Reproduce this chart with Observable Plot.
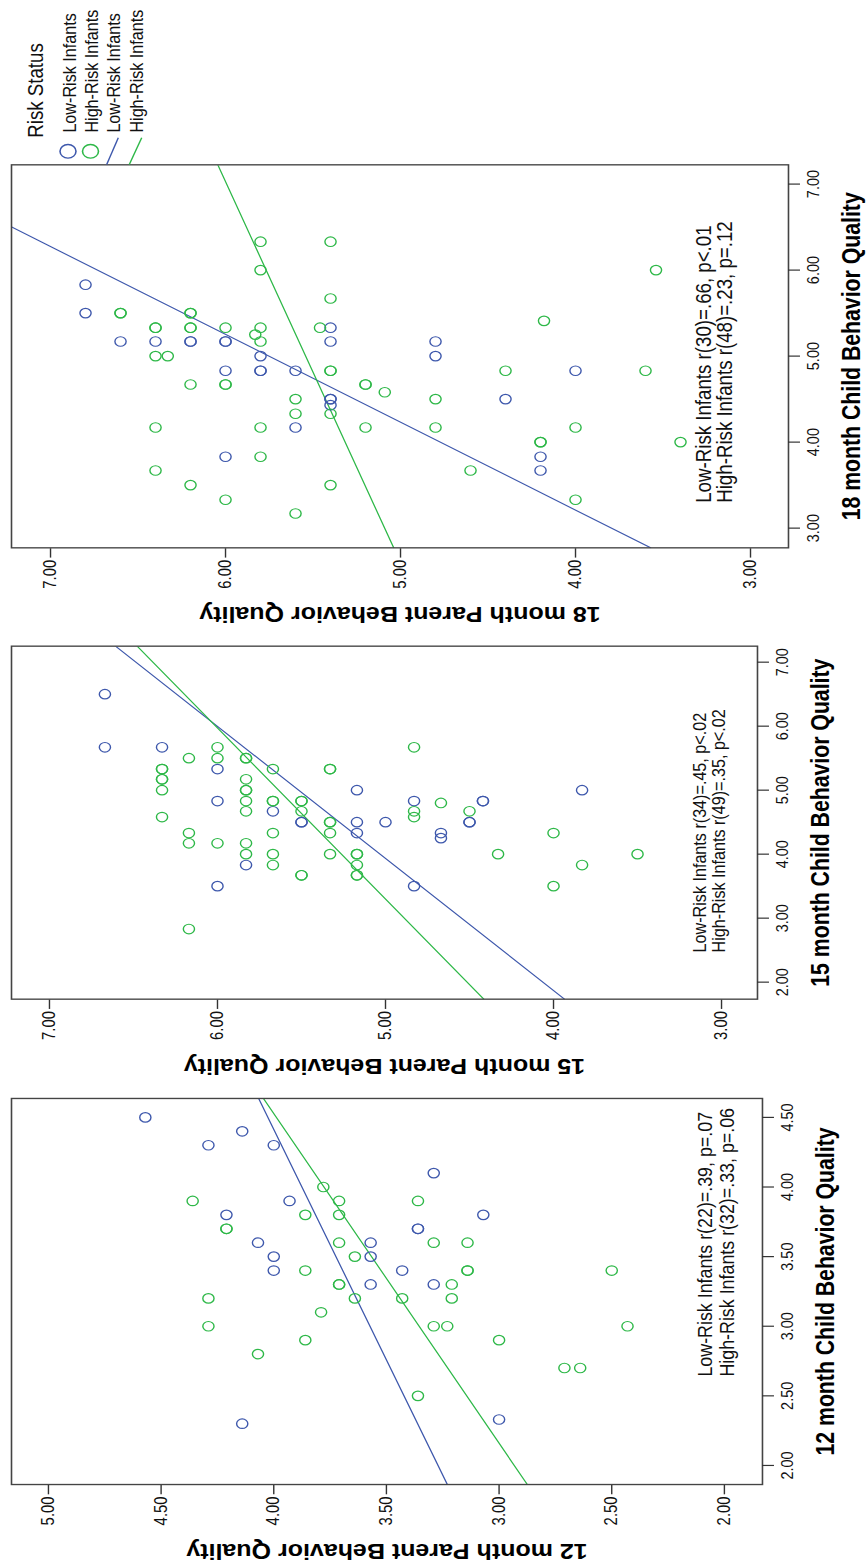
<!DOCTYPE html>
<html><head><meta charset="utf-8">
<script src="https://cdn.jsdelivr.net/npm/d3@7"></script>
<script src="https://cdn.jsdelivr.net/npm/@observablehq/plot@0.6"></script>
<style>
html,body{margin:0;padding:0;background:#fff;}
body{width:868px;height:1564px;overflow:hidden;position:relative;font-family:"Liberation Sans",Arial,sans-serif;}
#fig{position:absolute;left:0;top:0;width:1840px;height:868px;transform-origin:0 0;transform:translate(0px,1564px) rotate(-90deg) scale(0.85,1);}
#fig > div{position:absolute;top:0;}
#fig svg{max-width:none;overflow:visible;}
</style></head><body><div id="fig"></div>
<script>
// ---------- data ----------
const groups = ["Low-Risk Infants", "High-Risk Infants"];
const colors = ["#3E58AC", "#2EB848"];

// 12 month
const low12Parent  = [4.57,4.14,4.29,4.00,3.93,4.21,4.07,4.00,4.00,4.14,3.29,3.07,3.36,3.36,3.57,3.57,3.43,3.57,3.29,3.00];
const low12Child   = [4.50,4.40,4.30,4.30,3.90,3.80,3.60,3.50,3.40,2.30,4.10,3.80,3.70,3.70,3.60,3.50,3.40,3.30,3.30,2.33];
const high12Parent = [4.36,4.21,4.21,4.29,4.29,4.07,3.78,3.71,3.36,3.86,3.71,3.71,3.29,3.14,3.64,3.86,3.14,3.14,2.50,3.71,3.71,3.21,3.64,3.43,3.21,3.79,3.29,3.23,2.43,3.86,3.00,2.71,2.64,3.36];
const high12Child  = [3.90,3.70,3.70,3.20,3.00,2.80,4.00,3.90,3.90,3.80,3.80,3.60,3.60,3.60,3.50,3.40,3.40,3.40,3.40,3.30,3.30,3.30,3.20,3.20,3.20,3.10,3.00,3.00,3.00,2.90,2.90,2.70,2.70,2.50];
const fit12Intercept = [2.667, 2.088];
const fit12Slope     = [0.302, 0.4223];
const stats12 = ["Low-Risk Infants r(22)=.39, p=.07", "High-Risk Infants r(32)=.33, p=.06"];

// 15 month
const low15Parent  = [6.67,6.67,6.33,6.00,6.00,5.67,5.83,6.00,5.17,3.83,4.83,4.42,4.42,5.50,5.50,5.17,5.00,4.50,4.50,5.17,4.67,4.67,4.83];
const low15Child   = [6.50,5.67,5.67,5.33,4.83,4.67,3.83,3.50,5.00,5.00,4.83,4.83,4.83,4.50,4.50,4.50,4.50,4.50,4.50,4.33,4.33,4.25,3.50];
const high15Parent = [6.17,6.00,6.00,5.83,5.83,5.67,6.33,6.33,6.33,6.33,6.33,5.83,5.83,5.83,5.83,5.83,5.67,5.67,6.33,6.17,6.17,6.00,5.83,5.83,5.67,5.67,5.67,6.17,
                      4.83,5.33,5.33,5.50,5.50,4.67,5.50,4.83,4.83,4.50,5.33,5.33,5.33,4.00,5.33,5.17,5.17,4.33,3.50,5.17,3.83,5.50,5.50,5.17,5.17,4.00];
const high15Child  = [5.50,5.67,5.50,5.50,5.50,5.33,5.33,5.33,5.17,5.17,5.00,5.17,5.00,5.00,4.83,4.67,4.83,4.83,4.58,4.33,4.17,4.17,4.17,4.00,4.33,4.00,3.83,2.83,
                      5.67,5.33,5.33,4.83,4.83,4.80,4.67,4.67,4.58,4.67,4.50,4.50,4.33,4.33,4.00,4.00,4.00,4.00,4.00,3.83,3.83,3.67,3.67,3.67,3.67,3.50];
const fit15Intercept = [3.095, 3.7665];
const fit15Slope     = [0.4844, 0.374];
const stats15 = ["Low-Risk Infants r(34)=.45, p<.02", "High-Risk Infants r(49)=.35, p<.02"];

// 18 month
const low18Parent  = [6.8,6.8,6.6,6.4,6.2,6.2,6.0,6.0,5.8,6.0,5.8,5.8,5.6,5.6,6.0,5.4,5.4,4.8,4.8,4.0,5.4,5.4,5.4,4.4,4.2,4.2];
const low18Child   = [5.83,5.50,5.17,5.17,5.17,5.17,5.17,5.17,5.00,4.83,4.83,4.83,4.83,4.17,3.83,5.33,5.17,5.17,5.00,4.83,4.50,4.50,4.43,4.50,3.83,3.67];
const high18Parent = [5.8,5.8,6.6,6.6,6.2,6.2,6.4,6.4,6.2,6.2,6.0,5.8,5.83,5.8,6.4,6.33,6.2,6.0,6.0,5.6,5.6,6.4,5.8,5.8,6.4,6.2,6.0,5.6,
                      5.4,3.54,5.4,4.18,5.46,5.4,5.4,4.4,3.6,5.2,5.2,5.09,4.8,5.4,5.2,4.8,4.0,4.2,4.2,3.4,4.6,5.4,4.0];
const high18Child  = [6.33,6.00,5.50,5.50,5.50,5.50,5.33,5.33,5.33,5.33,5.33,5.33,5.25,5.17,5.00,5.00,4.67,4.67,4.67,4.50,4.33,4.17,4.17,3.83,3.67,3.50,3.33,3.17,
                      6.33,6.00,5.67,5.41,5.33,4.83,4.83,4.83,4.83,4.67,4.67,4.58,4.50,4.33,4.17,4.17,4.17,4.00,4.00,4.00,3.67,3.50,3.33];
const fit18Intercept = [0.858, 4.4136];
const fit18Slope     = [0.979, 0.2257];
const stats18 = ["Low-Risk Infants r(30)=.66, p<.01", "High-Risk Infants r(48)=.23, p=.12"];

const childTitles  = ["12 month Child Behavior Quality", "15 month Child Behavior Quality", "18 month Child Behavior Quality"];
const parentTitles = ["12 month Parent Behavior Quality", "15 month Parent Behavior Quality", "18 month Parent Behavior Quality"];
const childTicks  = [[2,2.5,3,3.5,4,4.5],[2,3,4,5,6,7],[3,4,5,6,7]];
const parentTicks = [[2,2.5,3,3.5,4,4.5,5],[3,4,5,6,7],[3,4,5,6,7]];
const childDomains  = [[1.863,4.636],[1.734,7.25],[2.771,7.224]];
const parentDomains = [[1.831,5.164],[2.786,7.226],[2.783,7.223]];

const legendTitle = "Risk Status";

// ---------- layout (unrotated, pre-scale coordinates) ----------
const layout = [
  {frame:[92.9,547.1,11,762], statsFont:21, statsDx:127, statsDy:-28, statsLH:1.05},
  {frame:[663.5,1078.8,11,757], statsFont:19, statsDx:55, statsDy:-32, statsLH:1.05},
  {frame:[1195.3,1645.9,11,788], statsFont:22, statsDx:53, statsDy:-56, statsLH:0.98}
];

const series = [
  [low12Child, low12Parent, high12Child, high12Parent, fit12Intercept, fit12Slope, stats12],
  [low15Child, low15Parent, high15Child, high15Parent, fit15Intercept, fit15Slope, stats15],
  [low18Child, low18Parent, high18Child, high18Parent, fit18Intercept, fit18Slope, stats18]
];

const fig = document.getElementById("fig");
const FONT = "'Liberation Sans', Arial, sans-serif";
const H = 868, ML = 130, MR = 30;

series.forEach((s, i) => {
  const [lc, lp, hc, hp, ia, sb, st] = s;
  const L = layout[i];
  const [u0, u1, v0, v1] = L.frame;
  const pts = [
    ...lc.map((c, k) => ({c, p: lp[k], g: groups[0]})),
    ...hc.map((c, k) => ({c, p: hp[k], g: groups[1]}))
  ];
  const fit = groups.flatMap((g, k) => childDomains[i].map(x => ({g, x, y: ia[k] + sb[k] * x})));
  const W = (u1 - u0) + ML + MR;
  const svg = Plot.plot({
    width: W, height: H,
    marginLeft: ML, marginRight: MR, marginTop: v0, marginBottom: H - v1,
    x: {domain: childDomains[i]},
    y: {domain: parentDomains[i]},
    color: {domain: groups, range: colors},
    style: {background: "transparent", fontFamily: FONT, overflow: "visible", maxWidth: "none"},
    marks: [
      Plot.line(fit, {x: "x", y: "y", z: "g", stroke: "g", strokeWidth: 1.3, clip: true}),
      Plot.dot(pts, {x: "c", y: "p", stroke: "g", r: 5.6, strokeWidth: 1.4}),
      Plot.frame({stroke: "#444", strokeWidth: 1.6}),
      Plot.axisX({ticks: childTicks[i], tickFormat: d3.format(".2f"), tickSize: 12, tickPadding: 6,
                  fontSize: 17, label: null, stroke: "#333", strokeWidth: 1.4, fill: "#111"}),
      Plot.axisY({ticks: parentTicks[i], tickFormat: d3.format(".2f"), tickSize: 11, tickPadding: 3,
                  fontSize: 17.5, label: null, stroke: "#333", strokeWidth: 1.4, fill: "#111"}),
      Plot.text([childTitles[i]], {text: d => d, frameAnchor: "bottom", dy: 54, lineAnchor: "top",
                  textAnchor: "middle", fontSize: 25, fontWeight: "bold", fill: "#000"}),
      Plot.text([parentTitles[i]], {text: d => d, frameAnchor: "left", rotate: -90, dx: -78,
                  textAnchor: "middle", lineAnchor: "middle", fontSize: 25, fontWeight: "bold", fill: "#000"}),
      Plot.text([st.join("\n")], {text: d => d, frameAnchor: "bottom-left", textAnchor: "start",
                  lineAnchor: "bottom", dx: L.statsDx, dy: L.statsDy, fontSize: L.statsFont,
                  lineHeight: L.statsLH, fill: "#111"})
    ]
  });
  const wrap = document.createElement("div");
  wrap.style.left = (u0 - ML) + "px";
  wrap.appendChild(svg);
  fig.appendChild(wrap);
});

// ---------- legend ----------
const NS = "http://www.w3.org/2000/svg";
const lg = document.createElementNS(NS, "svg");
const LX = 1630;
lg.setAttribute("width", 210); lg.setAttribute("height", 170);
lg.style.position = "absolute"; lg.style.left = LX + "px"; lg.style.top = "0px";
lg.style.fontFamily = FONT;
function el(tag, attrs, text) {
  const e = document.createElementNS(NS, tag);
  for (const k in attrs) e.setAttribute(k, attrs[k]);
  if (text) e.textContent = text;
  lg.appendChild(e); return e;
}
el("text", {x: 1678 - LX, y: 43, "font-size": 22, fill: "#111"}, legendTitle);
const rowBase = [76.5, 98.5, 120.5, 143];
const labels = [groups[0], groups[1], groups[0], groups[1]];
labels.forEach((t, k) => el("text", {x: 1684 - LX, y: rowBase[k], "font-size": 19, fill: "#111"}, t));
[0, 1].forEach(k => el("circle", {cx: 1662 - LX, cy: [68, 90.5][k], r: 8, fill: "none", stroke: colors[k], "stroke-width": 1.6}));
[0, 1].forEach(k => el("line", {x1: 1646.4 - LX, y1: [106.7, 129.3][k], x2: 1678 - LX, y2: [118.3, 141.7][k], stroke: colors[k], "stroke-width": 1.4}));
fig.appendChild(lg);
</script></body></html>
